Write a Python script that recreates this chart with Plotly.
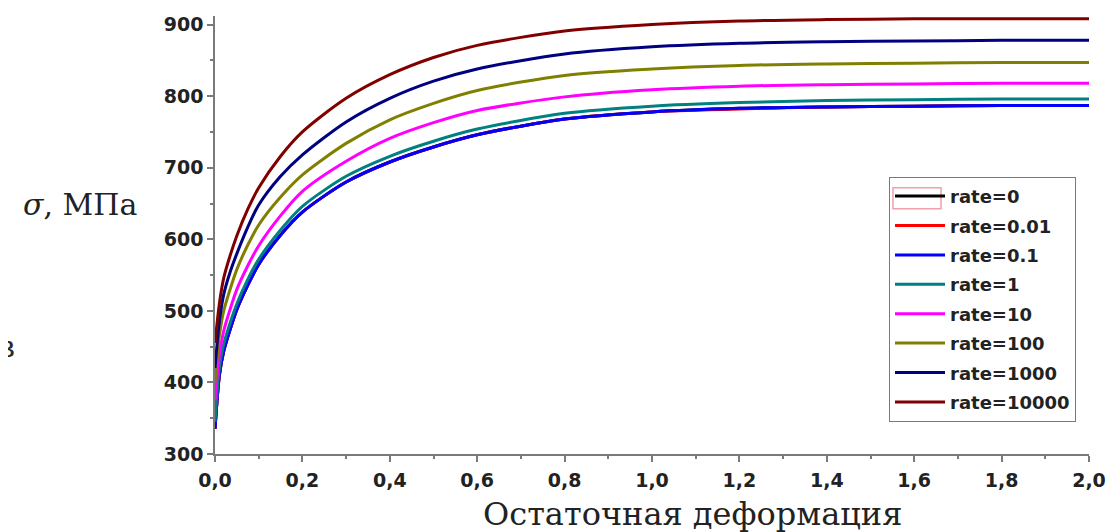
import plotly.graph_objects as go

strain = [0, 0.01, 0.02, 0.035, 0.05, 0.075, 0.1, 0.15, 0.2, 0.3, 0.4, 0.5, 0.6,
          0.8, 1.0, 1.2, 1.4, 1.6, 1.8, 2.0]

rate_0     = [335, 410, 444, 475, 502, 536, 565, 606, 638, 680, 708, 729, 746, 768, 778, 783, 785, 786, 787, 787]
rate_0_01  = [335, 410, 444, 475, 502, 536, 565, 606, 638, 680, 708, 729, 746, 768, 778, 782, 785, 786, 787, 787]
rate_0_1   = [335, 410, 444, 475, 502, 536, 565, 606, 638, 680, 708, 729, 746, 768, 778, 783, 785, 786, 787, 787]
rate_1     = [345, 420, 454, 484, 510, 544, 572, 613, 646, 688, 716, 737, 754, 776, 786, 791, 794, 795, 796, 796]
rate_10    = [375, 438, 472, 503, 530, 563, 591, 633, 667, 709, 741, 763, 780, 799, 809, 814, 816, 817, 818, 818]
rate_100   = [400, 465, 500, 531, 558, 592, 620, 659, 690, 734, 767, 790, 808, 829, 838, 843, 845, 846, 847, 847]
rate_1000  = [420, 485, 523, 555, 580, 617, 648, 688, 718, 764, 797, 821, 838, 859, 869, 874, 876, 877, 878, 878]
rate_10000 = [455, 510, 546, 578, 605, 642, 672, 716, 750, 797, 830, 854, 871, 891, 900, 905, 907, 908, 908, 908]

names = ["rate=0", "rate=0.01", "rate=0.1", "rate=1", "rate=10",
         "rate=100", "rate=1000", "rate=10000"]
series = [rate_0, rate_0_01, rate_0_1, rate_1, rate_10, rate_100, rate_1000, rate_10000]
colors = ["#000000", "#FF0000", "#0000FF", "#008080", "#FF00FF",
          "#808000", "#000080", "#800000"]

x_ticks = [0.0, 0.2, 0.4, 0.6, 0.8, 1.0, 1.2, 1.4, 1.6, 1.8, 2.0]
y_ticks = [300, 400, 500, 600, 700, 800, 900]

# page body has an 8px margin: positions below are window pixels minus 8
OFF = 8
W, H = 1120, 532
PL, PR, PT, PB = 215 - OFF, 1089 - OFF, 13 - OFF, 454 - OFF
pw, ph = PR - PL, PB - PT


def px(xw):
    return (xw - OFF - PL) / pw


def py(yw):
    return (PB - (yw - OFF)) / ph


fig = go.Figure()
for i, (n, s, c) in enumerate(zip(names, series, colors)):
    fig.add_trace(go.Scatter(
        x=strain, y=s, name=n, mode="lines",
        line=dict(color=c, width=3, shape="spline", smoothing=0.8),
        legendgroup=str(i),
    ))

axis_common = dict(
    showline=True, linecolor="#7a7a7a", linewidth=1.5,
    ticks="outside", ticklen=6, tickwidth=1.5, tickcolor="#7a7a7a",
    showgrid=False, zeroline=False,
    tickfont=dict(family="DejaVu Sans", size=19, color="#222222", weight="bold"),
    mirror=False,
)

fig.update_layout(
    width=W, height=H,
    margin=dict(l=PL, r=W - PR, t=PT, b=H - PB),
    paper_bgcolor="white", plot_bgcolor="white",
    separators=", ",
    showlegend=True,
    xaxis=dict(range=[0, 2.0], tickvals=x_ticks, tickformat=".1f",
               minor=dict(dtick=0.1, ticks="outside", ticklen=3, tickcolor="#7a7a7a"),
               ticklabelstandoff=2,
               **axis_common),
    yaxis=dict(range=[300, 912], tickvals=y_ticks,
               minor=dict(tickvals=[350, 450, 550, 650, 750, 850], ticks="outside",
                          ticklen=3, tickcolor="#7a7a7a"),
               **axis_common),
    legend=dict(
        x=px(889), y=py(175), xanchor="left", yanchor="top",
        bgcolor="rgba(255,255,255,0)", bordercolor="#7a7a7a", borderwidth=1,
        font=dict(family="DejaVu Sans", size=18, color="#222222", weight="bold"),
        itemwidth=50, tracegroupgap=3,
    ),
    shapes=[
        dict(type="rect", xref="paper", yref="paper",
             x0=px(893), x1=px(941), y0=py(186), y1=py(207),
             line=dict(color="#f0a0a8", width=1.5), fillcolor="rgba(0,0,0,0)",
             layer="below"),
    ],
    annotations=[
        dict(text="<i>σ</i>, МПа", xref="paper", yref="paper",
             x=px(80), y=py(203), showarrow=False,
             xanchor="center", yanchor="middle",
             font=dict(family="DejaVu Serif", size=30, color="#222222")),
        dict(text="Остаточная деформация", xref="paper", yref="paper",
             x=px(692), y=py(514), showarrow=False,
             xanchor="center", yanchor="middle",
             font=dict(family="DejaVu Serif", size=32, color="#222222")),
        dict(text="в", xref="paper", yref="paper",
             x=px(17), y=py(346), showarrow=False,
             xanchor="right", yanchor="middle",
             font=dict(family="DejaVu Serif", size=30, color="#2a2a2a")),
    ],
)

fig.write_html("out.html")
